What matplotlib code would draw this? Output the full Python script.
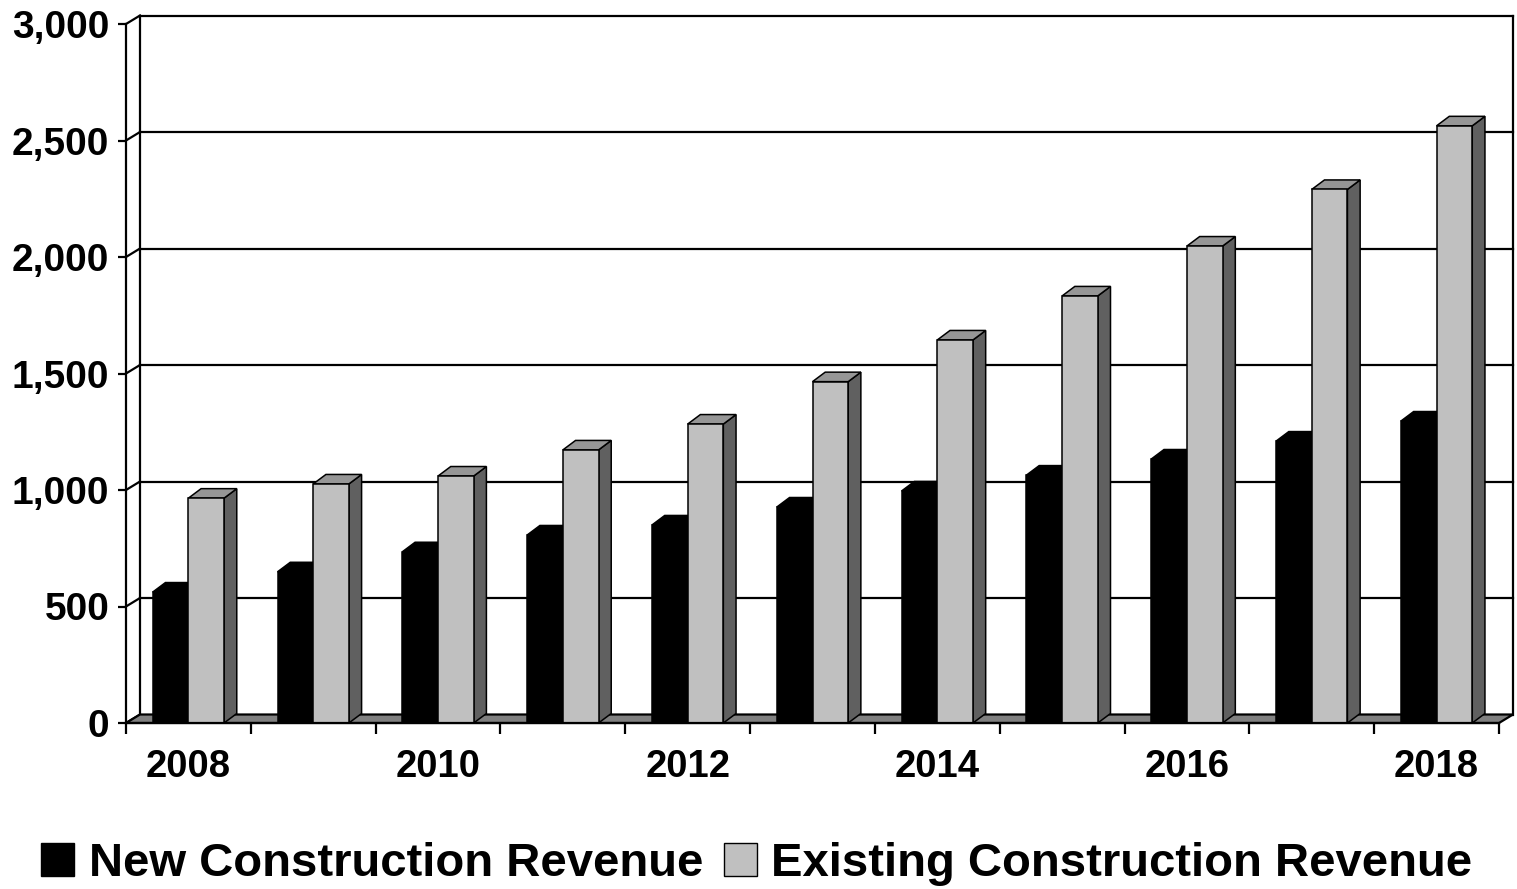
import matplotlib
matplotlib.use("Agg")
import matplotlib.pyplot as plt
from matplotlib.patches import Polygon, Rectangle, Patch

# ---- data ----
years = [2008, 2009, 2010, 2011, 2012, 2013, 2014, 2015, 2016, 2017, 2018]
new_construction = [562, 649, 735, 807, 850, 927, 996, 1064, 1133, 1210, 1296]
existing_construction = [965, 1026, 1060, 1172, 1283, 1465, 1644, 1833, 2047, 2290, 2563]
y_ticks = [0, 500, 1000, 1500, 2000, 2500, 3000]
series_names = ["New Construction Revenue", "Existing Construction Revenue"]

plt.rcParams['font.family'] = ['Liberation Sans', 'DejaVu Sans']
plt.rcParams['font.weight'] = 'bold'

W, H = 1517, 889
fig = plt.figure(figsize=(W / 100, H / 100), dpi=100)
ax_l, ax_r, ax_t, ax_b = 126, 1499, 24, 723
ax = fig.add_axes([ax_l / W, (H - ax_b) / H, (ax_r - ax_l) / W, (ax_b - ax_t) / H])
n = len(years)
ymax = 3000
ax.set_xlim(0, n)
ax.set_ylim(0, ymax)

ux = n / (ax_r - ax_l)      # data units per pixel (x)
uy = ymax / (ax_b - ax_t)   # data units per pixel (y)
wdx, wdy = 14 * ux, 8.5 * uy   # wall depth
bdx, bdy = 12.7 * ux, 9.5 * uy  # bar depth

LW = 1.6
# back wall gridlines and side wall diagonals
for v in y_ticks:
    ax.plot([0, wdx], [v, v + wdy], color='black', lw=LW, clip_on=False, zorder=1)
    if v > 0:
        ax.plot([wdx, n + wdx], [v + wdy, v + wdy], color='black', lw=LW, clip_on=False, zorder=1)
ax.plot([wdx, wdx], [wdy, ymax + wdy], color='black', lw=LW, clip_on=False, zorder=1)
ax.plot([n + wdx, n + wdx], [wdy, ymax + wdy], color='black', lw=LW, clip_on=False, zorder=1)

# floor
floor = Polygon([(0, 0), (n, 0), (n + wdx, wdy), (wdx, wdy)], closed=True,
                facecolor='#808080', edgecolor='black', lw=LW, clip_on=False, zorder=1.5)
ax.add_patch(floor)

bar_w = 0.2857
gap = (1 - 2 * bar_w) / 2


def draw_bar(x0, v, front, top, side, edge, z):
    x1 = x0 + bar_w
    side_p = Polygon([(x1, 0), (x1, v), (x1 + bdx, v + bdy), (x1 + bdx, bdy)], closed=True,
                     facecolor=side, edgecolor=edge, lw=1.1, clip_on=False, zorder=z)
    top_p = Polygon([(x0, v), (x1, v), (x1 + bdx, v + bdy), (x0 + bdx, v + bdy)], closed=True,
                    facecolor=top, edgecolor=edge, lw=1.1, clip_on=False, zorder=z)
    front_p = Rectangle((x0, 0), bar_w, v, facecolor=front, edgecolor=edge, lw=1.1,
                        clip_on=False, zorder=z + 0.1)
    for p in (side_p, top_p, front_p):
        ax.add_patch(p)


for i in range(n):
    base = i + gap
    z = 3 + i * 0.5
    draw_bar(base, new_construction[i], 'black', 'black', 'black', 'black', z)
    draw_bar(base + bar_w, existing_construction[i], '#C0C0C0', '#969696', '#606060', 'black', z + 0.2)

# axes styling
for s in ['top', 'right']:
    ax.spines[s].set_visible(False)
for s in ['left', 'bottom']:
    ax.spines[s].set_linewidth(LW)
    ax.spines[s].set_zorder(20)

ax.set_yticks(y_ticks)
ax.set_yticklabels([f"{v:,}" for v in y_ticks])
ax.tick_params(axis='y', length=6, width=LW, pad=6, labelsize=28)

ax.set_xticks(range(n + 1))
ax.set_xticklabels([])
ax.tick_params(axis='x', which='major', length=8, width=LW)
ax.set_xticks([i + 0.5 for i in range(0, n, 2)], minor=True)
ax.set_xticklabels([str(years[i]) for i in range(0, n, 2)], minor=True)
ax.tick_params(axis='x', which='minor', length=0, pad=19, labelsize=27.5)
for lab in ax.get_xticklabels(minor=True) + ax.get_yticklabels():
    lab.set_fontweight('bold')

handles = [Patch(facecolor='black', edgecolor='black', lw=1),
           Patch(facecolor='#C0C0C0', edgecolor='black', lw=1)]
leg = fig.legend(handles, series_names, loc='center', bbox_to_anchor=(757 / W, 1 - 864 / H),
                 ncol=2, frameon=False, prop={'weight': 'bold', 'size': 34},
                 handlelength=0.7, handleheight=0.7, handletextpad=0.3, columnspacing=0.45)

fig.savefig('out.png', dpi=100)
